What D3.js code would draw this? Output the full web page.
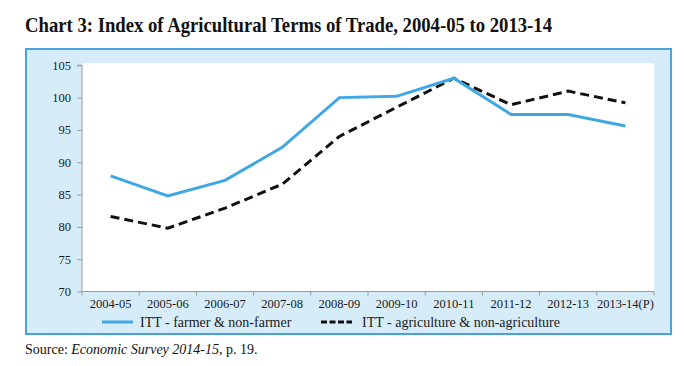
<!DOCTYPE html>
<html>
<head>
<meta charset="utf-8">
<script src="https://cdn.jsdelivr.net/npm/d3@7"></script>
<style>
  body { margin: 0; background: #fff; }
  svg { display: block; }
  svg text { font-family: 'Liberation Serif', 'Times New Roman', serif; }
</style>
</head>
<body>
<svg id="chart" width="700" height="366"></svg>
<script>
const categories = ["2004-05","2005-06","2006-07","2007-08","2008-09","2009-10","2010-11","2011-12","2012-13","2013-14(P)"];
const farmerNonFarmer = [87.9, 84.8, 87.2, 92.3, 100.0, 100.2, 103.0, 97.4, 97.4, 95.6];
const agriNonAgri = [81.6, 79.8, 82.9, 86.6, 94.0, 98.5, 103.0, 98.9, 101.0, 99.2];
const yTicks = [70, 75, 80, 85, 90, 95, 100, 105];
const seriesNames = ["ITT - farmer & non-farmer", "ITT - agriculture & non-agriculture"];

const svg = d3.select("#chart");

// Title
svg.append("text")
  .attr("x", 25).attr("y", 32)
  .attr("font-weight", "bold").attr("font-size", 21)
  .attr("fill", "#111")
  .attr("textLength", 527).attr("lengthAdjust", "spacingAndGlyphs")
  .text("Chart 3: Index of Agricultural Terms of Trade, 2004-05 to 2013-14");

// Outer box
svg.append("rect")
  .attr("x", 26).attr("y", 49).attr("width", 645).attr("height", 285)
  .attr("fill", "#d7ecf9").attr("stroke", "#48a4e0").attr("stroke-width", 2);

const x0 = 82, x1 = 654, yTop = 63, yBot = 291.5;

// Plot area
svg.append("rect")
  .attr("x", x0).attr("y", yTop).attr("width", x1 - x0).attr("height", yBot - yTop)
  .attr("fill", "#fff");

const x = d3.scaleBand().domain(categories).range([x0, x1]);
const y = d3.scaleLinear().domain([70, 105]).range([yBot, 65.3]);

// Y axis
const yAxis = svg.append("g").attr("transform", `translate(${x0},0)`)
  .call(d3.axisLeft(y).tickValues(yTicks).tickSize(5).tickPadding(6));
yAxis.select(".domain").attr("stroke", "#9a9a9a").attr("d", `M-5,${y(105)}H0V${yBot}`);
yAxis.selectAll(".tick line").attr("stroke", "#9a9a9a");
yAxis.selectAll("text").attr("font-size", 12.5).attr("fill", "#1a1a1a");

// X axis
const xAxis = svg.append("g").attr("transform", `translate(0,${yBot})`)
  .call(d3.axisBottom(x).tickSize(0).tickPadding(8));
xAxis.select(".domain").attr("stroke", "#9a9a9a").attr("d", `M${x0},0H${x1}`);
xAxis.selectAll("text").attr("font-size", 12.5).attr("fill", "#1a1a1a");
// tick marks at band boundaries
const bounds = categories.map(c => x(c)).concat([x1]);
xAxis.selectAll(".bound").data(bounds).enter().append("line")
  .attr("class", "bound")
  .attr("x1", d => d).attr("x2", d => d)
  .attr("y1", 0).attr("y2", 4)
  .attr("stroke", "#9a9a9a");

const line = d3.line()
  .x((d, i) => x(categories[i]) + x.bandwidth() / 2)
  .y(d => y(d));

svg.append("path").datum(agriNonAgri)
  .attr("d", line).attr("fill", "none")
  .attr("stroke", "#111").attr("stroke-width", 3)
  .attr("stroke-dasharray", "9,5");

svg.append("path").datum(farmerNonFarmer)
  .attr("d", line).attr("fill", "none")
  .attr("stroke", "#3fa8e4").attr("stroke-width", 3);

// Legend
const ly = 322;
svg.append("line").attr("x1", 102).attr("x2", 133).attr("y1", ly).attr("y2", ly)
  .attr("stroke", "#3fa8e4").attr("stroke-width", 3);
svg.append("text").attr("x", 140).attr("y", ly + 4.5)
  .attr("font-size", 14).attr("fill", "#1a1a1a")
  .text(seriesNames[0]);
svg.append("line").attr("x1", 321).attr("x2", 352).attr("y1", ly).attr("y2", ly)
  .attr("stroke", "#111").attr("stroke-width", 3).attr("stroke-dasharray", "6,2.5");
svg.append("text").attr("x", 362).attr("y", ly + 4.5)
  .attr("font-size", 14).attr("fill", "#1a1a1a")
  .text(seriesNames[1]);

// Source
const src = svg.append("text").attr("x", 25).attr("y", 354)
  .attr("font-size", 14).attr("fill", "#111");
src.append("tspan").text("Source: ");
src.append("tspan").attr("font-style", "italic").text("Economic Survey 2014-15");
src.append("tspan").text(", p. 19.");
</script>
</body>
</html>
